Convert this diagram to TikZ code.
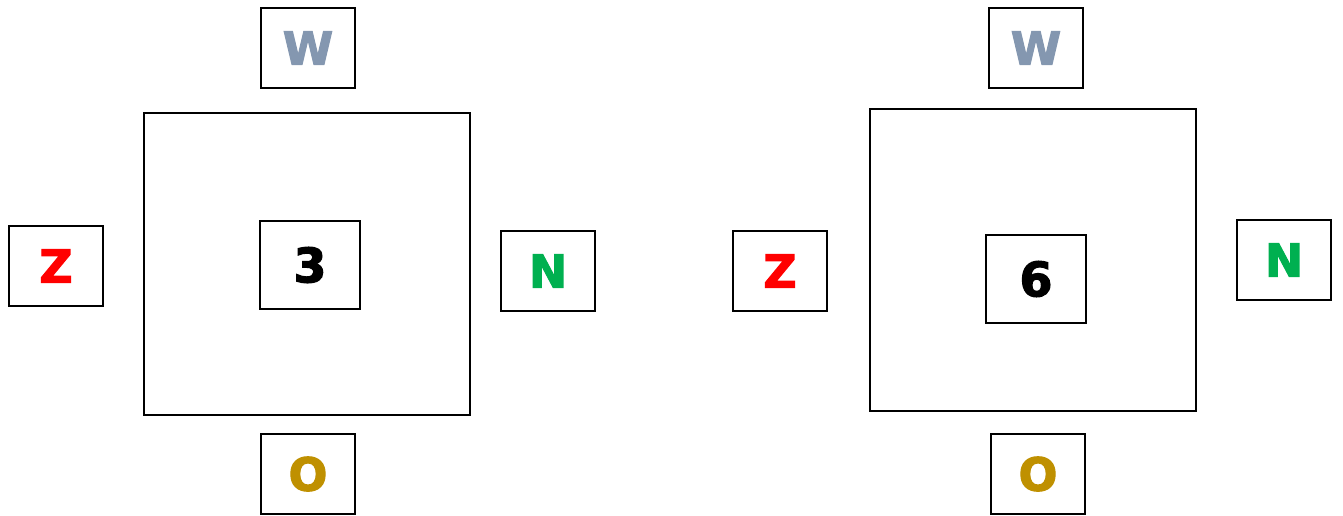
\documentclass[tikz,border=0pt]{standalone}
\usepackage{fontspec}
\setmainfont{DejaVu Sans}
\newfontfamily\heavyfont[FakeBold=2.5]{DejaVu Sans Bold}
\usepackage{xcolor}
\usetikzlibrary{positioning}

\definecolor{colW}{RGB}{132,151,176}
\definecolor{colZ}{RGB}{255,0,0}
\definecolor{colN}{RGB}{0,176,80}
\definecolor{colO}{RGB}{191,144,0}

\begin{document}
\begin{tikzpicture}[x=0.02cm, y=-0.02cm,
    letterbox/.style={draw, line width=1.5pt, minimum width=1.88cm, minimum height=1.6cm,
        inner sep=0pt, font=\heavyfont\fontsize{26}{26}\selectfont},
    numbox/.style={draw, line width=1.5pt, minimum width=2cm, minimum height=1.76cm,
        inner sep=0pt, font=\heavyfont\fontsize{27}{27}\selectfont},
    bigbox/.style={draw, line width=1.5pt, minimum width=6.52cm, minimum height=6.04cm, inner sep=0pt}]

    % =================================================================
    % 1. KHUNG ẢNH (1343 x 515 px)
    % =================================================================
    \useasboundingbox (0,0) rectangle (1343,515);

    % =================================================================
    % 2. HÌNH BÊN TRÁI
    % =================================================================
    \node[bigbox] (L) at (307,264) {};
    \node[numbox] (L3) at (310,265) {3};

    % Các ô chữ bao quanh
    \node[letterbox, text=colW] (LW) at (308,48) {W};
    \node[letterbox, text=colZ] (LZ) at (56,266) {Z};
    \node[letterbox, text=colN] (LN) at (548,271) {N};
    \node[letterbox, text=colO] (LO) at (308,474) {O};

    % =================================================================
    % 3. HÌNH BÊN PHẢI
    % =================================================================
    \node[bigbox] (R) at (1033,260) {};
    \node[numbox] (R6) at (1036,279) {6};

    % Các ô chữ bao quanh
    \node[letterbox, text=colW] (RW) at (1036,48) {W};
    \node[letterbox, text=colZ] (RZ) at (780,271) {Z};
    \node[letterbox, text=colN] (RN) at (1284,260) {N};
    \node[letterbox, text=colO] (RO) at (1038,474) {O};

\end{tikzpicture}
\end{document}
